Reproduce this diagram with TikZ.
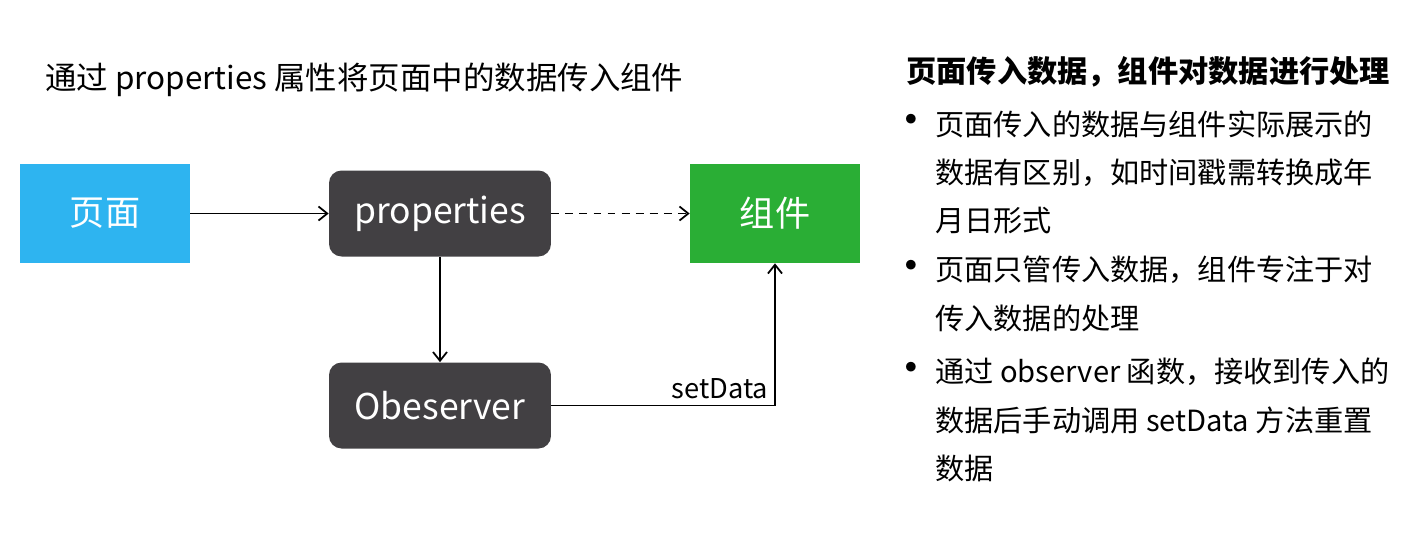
\documentclass[tikz,border=0pt]{standalone}
\usepackage{fontspec}
\setmainfont{Noto Sans CJK SC}
\usetikzlibrary{arrows.meta}
\definecolor{pageblue}{RGB}{46,180,240}
\definecolor{compgreen}{RGB}{42,174,53}
\definecolor{propgray}{RGB}{66,64,67}

\begin{document}
\begin{tikzpicture}[x=0.02cm,y=-0.02cm,>={Straight Barb[length=5pt,width=8pt]},
    flat/.style={minimum width=3.4cm,minimum height=1.98cm,text=white,font=\fontsize{20}{24}\selectfont},
    dark/.style={fill=propgray,rounded corners=0.25cm,minimum width=4.44cm,minimum height=1.72cm,text=white,font=\fontsize{20.2}{24}\selectfont},
    link/.style={line width=1pt,->},
    dot/.style={font=\fontsize{26}{26}\selectfont,inner sep=0pt},
    body/.style={anchor=north west,inner sep=0pt,align=left,font=\fontsize{16.6}{27.4}\selectfont}]
            \useasboundingbox (0,0) rectangle (1412,549);
            \node[anchor=west,inner sep=0pt,font=\fontsize{17.9}{20}\selectfont] (title) at (45,80) {通过 properties 属性将页面中的数据传入组件};

            \node[flat,fill=pageblue] (page) at (105,213.5) {页面};
            \node[dark] (prop) at (440,213.5) {properties};
            \node[flat,fill=compgreen] (comp) at (775,213.5) {组件};
            \node[dark] (obs) at (440,405.5) {Obeserver};

            \draw[link] (page) -- (prop);
            \draw[link,dash pattern=on 4.5pt off 3.5pt] (prop) -- (comp);
            \draw[link] (prop) -- (obs);
            \draw[link] (obs.east) -| node[pos=0.5,above left,font=\fontsize{15.5}{18}\selectfont] (set) {setData} (comp.south);

            % right hand notes
            \node[anchor=west,inner sep=0pt,font=\fontsize{17.2}{20}\selectfont\bfseries] (head) at (906,72) {页面传入数据，组件对数据进行处理};
            \node[dot] (dot1) at (911,125) {•};
            \node[body] (note1) at (935,110) {页面传入的数据与组件实际展示的\\数据有区别，如时间戳需转换成年\\月日形式};
            \node[dot] (dot2) at (911,271) {•};
            \node[body] (note2) at (935,256) {页面只管传入数据，组件专注于对\\传入数据的处理};
            \node[dot] (dot3) at (911,373) {•};
            \node[body] (note3) at (935,358) {通过 observer 函数，接收到传入的\\数据后手动调用 setData 方法重置\\数据};
        \end{tikzpicture}
\end{document}
